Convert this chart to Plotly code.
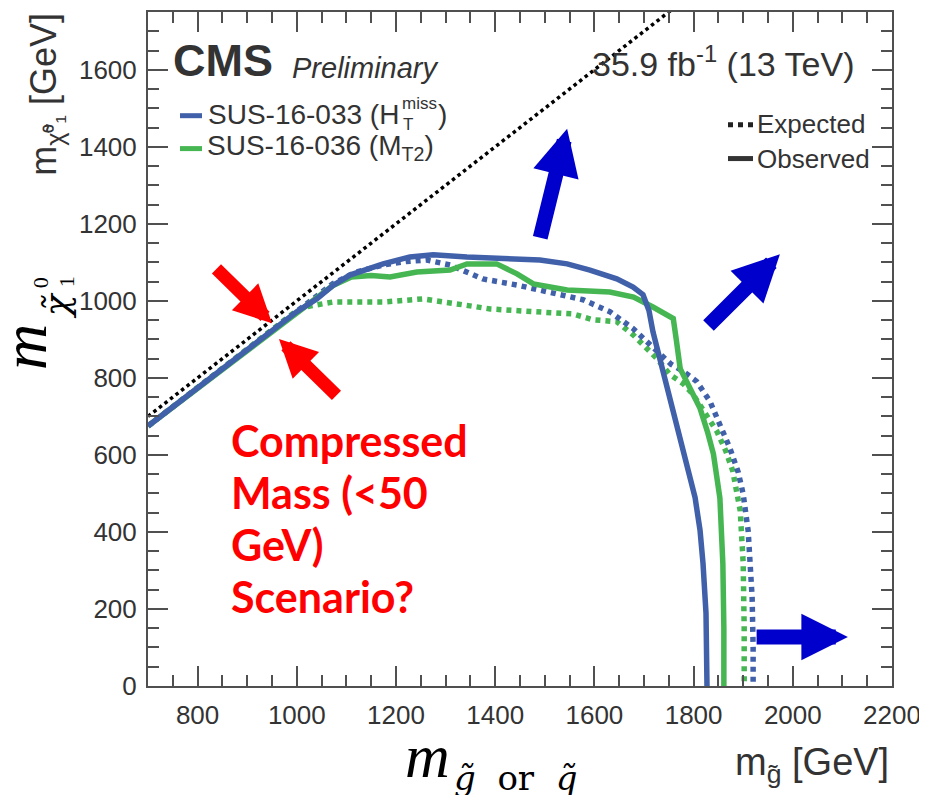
import plotly.graph_objects as go

# ---------------- page geometry ----------------
# The page body has an 8px default margin, so the figure is made 8px smaller
# and the plot area is laid out in screen pixels of the 927x795 window.
OFF = 8
SW, SH = 927, 795
PL, PR, PT, PB = 148, 892, 10, 686          # plot area in screen pixels
W, H = SW - OFF, SH - OFF
ML, MT = PL - OFF, PT - OFF
MR, MB = W - (PR - OFF), H - (PB - OFF)
PW, PH = PR - PL, PB - PT

def px(x):
    return (x - PL) / PW

def py(y):
    return (PB - y) / PH

# ---------------- data ----------------
x_range = [700, 2200]
y_range = [0, 1750]
x_ticks = [800, 1000, 1200, 1400, 1600, 1800, 2000, 2200]
y_ticks = [0, 200, 400, 600, 800, 1000, 1200, 1400, 1600]

diag_mg = [700, 1760]
diag_mlsp = [700, 1760]

# SUS-16-033 (HT miss), observed
blue_obs_mg = [700, 800, 900, 1000, 1040, 1073, 1107, 1140, 1174, 1228, 1275, 1343,
               1410, 1490, 1545, 1591, 1645, 1678, 1698, 1710, 1718, 1732, 1745, 1762,
               1786, 1803, 1813, 1819, 1825, 1827]
blue_obs_mlsp = [675, 775, 875, 972, 1005, 1040, 1067, 1083, 1096, 1114, 1120, 1114,
                 1109, 1106, 1096, 1080, 1057, 1036, 1016, 975, 920, 850, 780, 707,
                 577, 489, 404, 318, 189, 0]

# SUS-16-033 (HT miss), expected
blue_exp_mg = [700, 1000, 1050, 1073, 1120, 1174, 1220, 1262, 1309, 1340, 1375, 1444,
               1510, 1577, 1631, 1678, 1705, 1732, 1755, 1779, 1806, 1833, 1853, 1873,
               1890, 1900, 1910, 1915, 1918, 1920, 1920]
blue_exp_mlsp = [675, 975, 1022, 1045, 1075, 1093, 1102, 1106, 1093, 1075, 1057, 1041,
                 1023, 1003, 972, 928, 895, 860, 835, 817, 791, 739, 680, 618,
                 555, 498, 403, 320, 230, 100, 0]

# SUS-16-036 (MT2), observed
green_obs_mg = [700, 1000, 1073, 1110, 1150, 1188, 1242, 1309, 1343, 1403, 1444, 1477,
                1545, 1631, 1679, 1718, 1759, 1765, 1769, 1773, 1790, 1813, 1828, 1840,
                1853, 1857, 1859, 1861, 1861]
green_obs_mlsp = [675, 970, 1040, 1062, 1066, 1062, 1075, 1080, 1096, 1096, 1070, 1044,
                  1028, 1023, 1010, 984, 954, 900, 850, 824, 780, 721, 660, 602,
                  488, 400, 318, 150, 0]

# SUS-16-036 (MT2), expected
green_exp_mg = [700, 1000, 1020, 1073, 1174, 1254, 1323, 1390, 1477, 1557, 1597, 1645,
                1678, 1700, 1726, 1752, 1779, 1799, 1823, 1847, 1865, 1879, 1894, 1898,
                1900, 1902, 1902]
green_exp_mlsp = [675, 975, 985, 997, 997, 1005, 992, 979, 972, 966, 951, 946,
                  912, 885, 850, 809, 785, 757, 710, 661, 610, 558, 455, 380,
                  318, 150, 0]

BLUE = "#4160AA"
GREEN = "#46B653"
TXT = "#333333"
AX = "#505050"
ARROW_BLUE = "#0000CC"
RED = "#FF0000"

# arrows: (tail mg, tail mlsp, tip mg, tip mlsp)
blue_arrows = [(1490, 1160, 1545, 1447),
               (1827, 932, 1974, 1121),
               (1924, 127, 2111, 127)]
red_arrows = [(835, 1087, 950, 942),
              (1083, 751, 964, 901)]

fig = go.Figure()

fig.add_trace(go.Scatter(x=diag_mg, y=diag_mlsp, mode="lines",
                         line=dict(color="#000000", width=3.5, dash="3.5px,3.5px"),
                         showlegend=False, hoverinfo="skip"))
fig.add_trace(go.Scatter(x=green_exp_mg, y=green_exp_mlsp, mode="lines",
                         line=dict(color=GREEN, width=5.5, dash="5px,5px"), showlegend=False))
fig.add_trace(go.Scatter(x=blue_exp_mg, y=blue_exp_mlsp, mode="lines",
                         line=dict(color=BLUE, width=5.5, dash="5px,5px"), showlegend=False))
fig.add_trace(go.Scatter(x=green_obs_mg, y=green_obs_mlsp, mode="lines",
                         line=dict(color=GREEN, width=5.5), showlegend=False))
fig.add_trace(go.Scatter(x=blue_obs_mg, y=blue_obs_mlsp, mode="lines",
                         line=dict(color=BLUE, width=5.5), showlegend=False))

ann = []
SANS = "Liberation Sans, Arial, sans-serif"
SERIF = "Liberation Serif, DejaVu Serif, serif"
DSERIF = "DejaVu Serif, serif"

def text(x, y, s, size, color=TXT, family=SANS, xanchor="left", angle=0):
    ann.append(dict(xref="paper", yref="paper", x=px(x), y=py(y), text=s,
                    showarrow=False, xanchor=xanchor, yanchor="middle",
                    textangle=angle, font=dict(size=size, color=color, family=family)))

# header
text(171, 59, "<b>CMS</b>", 45)
text(290, 66, "<i>Preliminary</i>", 29)
text(856, 60, "35.9 fb<sup>-1</sup> (13 TeV)", 34, xanchor="right")

# legend (analyses)
text(401, 113, "SUS-16-033 (H", 28, xanchor="right")
text(400, 102, "miss", 17)
text(401, 123, "T", 17)
text(436, 113, ")", 28)
text(205, 146, "SUS-16-036 (M<sub>T2</sub>)", 28)
# legend (line style)
text(755, 122, "Expected", 26)
text(755, 157, "Observed", 26)

# red text
red_lines = ["Compressed", "Mass (&lt;50", "GeV)", "Scenario?"]
red_y = [440, 492, 544, 596]
for s, yy in zip(red_lines, red_y):
    text(229, yy, "<b>" + s + "</b>", 43, color=RED, family="Lato, sans-serif")

# axis titles (small, CMS style)
text(46, 93, "m<sub>χ̃⁰₁</sub> [GeV]", 36, angle=-90, xanchor="center")
text(891, 765, "m<sub>g̃</sub> [GeV]", 38, xanchor="right")

# big math labels
text(24, 346, "<i>m</i>", 64, color="#000000", family=SERIF, angle=-90, xanchor="center")
text(56, 305, "<i>χ̃</i>", 36, color="#000000", family=DSERIF, angle=-90, xanchor="center")
text(40, 281, "0", 22, color="#000000", family=SERIF, angle=-90, xanchor="center")
text(66, 281, "1", 22, color="#000000", family=SERIF, angle=-90, xanchor="center")

text(427, 756, "<i>m</i>", 62, color="#000000", family=SERIF, xanchor="center")
text(515, 778, "<i>g̃</i>&#160;&#160;or&#160;&#160;<i>q̃</i>", 34, color="#000000",
     family=DSERIF, xanchor="center")

for (tx, ty, hx, hy) in blue_arrows:
    ann.append(dict(x=hx, y=hy, ax=tx, ay=ty, xref="x", yref="y", axref="x", ayref="y",
                    text="", showarrow=True, arrowhead=2, arrowwidth=15, arrowsize=0.62,
                    arrowcolor=ARROW_BLUE))
for (tx, ty, hx, hy) in red_arrows:
    ann.append(dict(x=hx, y=hy, ax=tx, ay=ty, xref="x", yref="y", axref="x", ayref="y",
                    text="", showarrow=True, arrowhead=2, arrowwidth=13, arrowsize=0.58,
                    arrowcolor=RED))

shapes = [
    dict(type="line", xref="paper", yref="paper", x0=px(180), x1=px(202), y0=py(114), y1=py(114),
         line=dict(color=BLUE, width=5)),
    dict(type="line", xref="paper", yref="paper", x0=px(180), x1=px(202), y0=py(147), y1=py(147),
         line=dict(color=GREEN, width=5)),
    dict(type="line", xref="paper", yref="paper", x0=px(728), x1=px(753), y0=py(123), y1=py(123),
         line=dict(color="#222222", width=5, dash="5px,5px")),
    dict(type="line", xref="paper", yref="paper", x0=px(728), x1=px(753), y0=py(157), y1=py(157),
         line=dict(color="#333333", width=5)),
]

axis_common = dict(showline=True, linecolor=AX, linewidth=2, mirror="ticks",
                   ticks="inside", ticklen=20, tickwidth=1.5, tickcolor=AX,
                   showgrid=False, zeroline=False,
                   tickfont=dict(size=26, color=TXT, family=SANS),
                   minor=dict(ticks="inside", ticklen=11, tickwidth=1.5, tickcolor=AX, dtick=50,
                              showgrid=False))

fig.update_layout(
    width=W, height=H,
    margin=dict(l=ML, r=MR, t=MT, b=MB),
    paper_bgcolor="white", plot_bgcolor="white",
    xaxis=dict(range=x_range, tickvals=x_ticks, ticklabelstandoff=5, **axis_common),
    yaxis=dict(range=y_range, tickvals=y_ticks, ticklabelstandoff=4, **axis_common),
    annotations=ann,
    shapes=shapes,
    showlegend=False,
)

fig.write_html("out.html")
